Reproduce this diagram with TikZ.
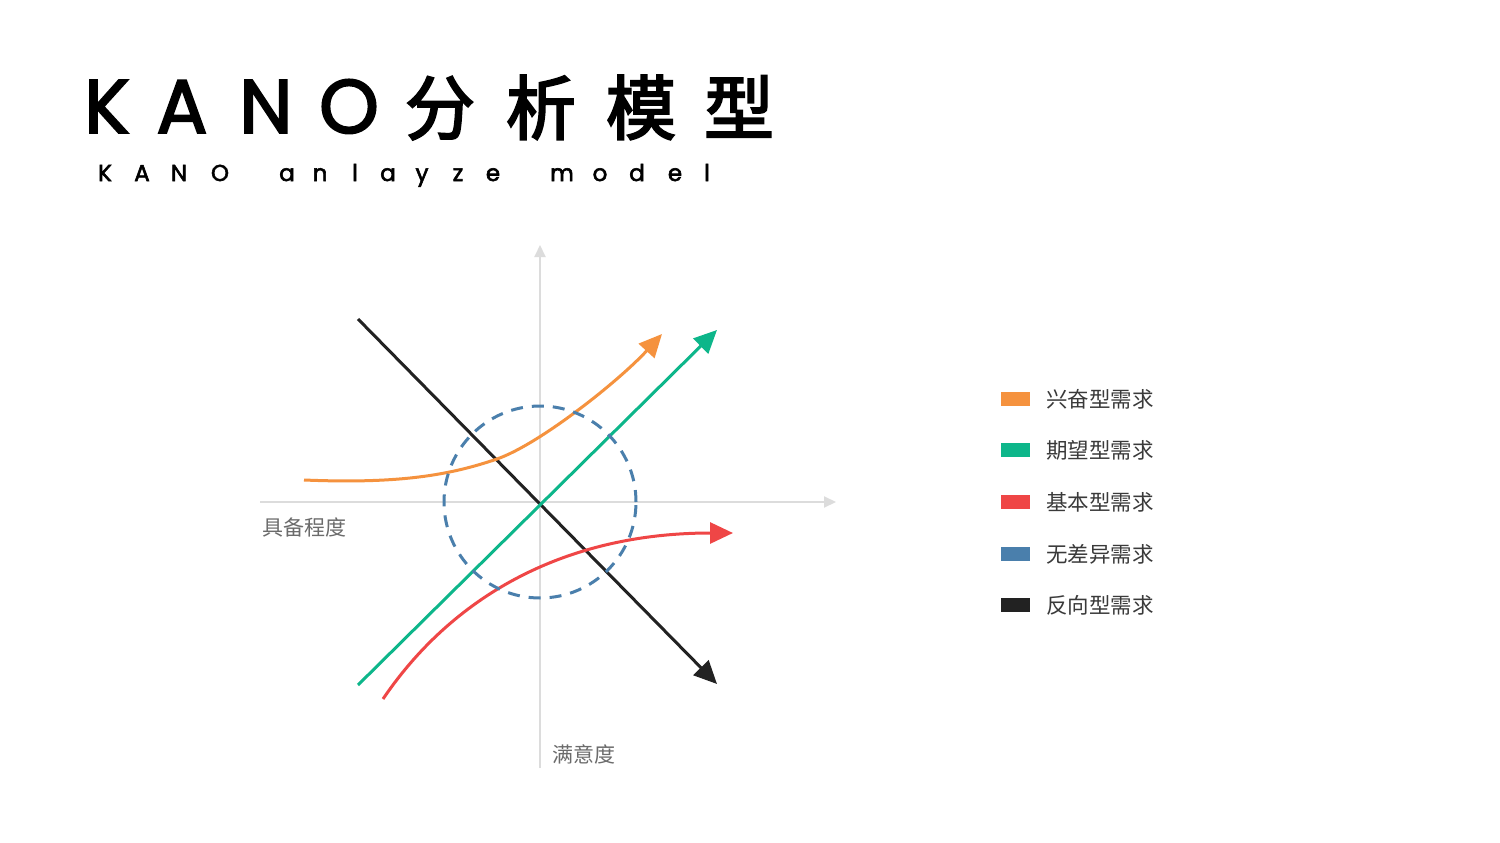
\documentclass[tikz,border=0pt]{standalone}
\usepackage{fontspec}
\setmainfont{Noto Sans CJK SC}
\newfontfamily\latinfont{Poppins}
\newfontfamily\titlelatinfont{Poppins}[FakeBold=2.5]
\newfontfamily\sublatinfont{Poppins}[FakeBold=2.5]
\newfontfamily\cjkfont{Noto Sans CJK SC}
\newfontfamily\titlecjkfont{Noto Sans CJK SC}[FakeBold=3]
\usetikzlibrary{arrows.meta,positioning}

\definecolor{excite}{HTML}{F5923E}
\definecolor{expect}{HTML}{0DB68A}
\definecolor{basic}{HTML}{EF4646}
\definecolor{indiff}{HTML}{4A7FAC}
\definecolor{reverse}{HTML}{222222}
\definecolor{axisgray}{HTML}{DCDCDC}
\definecolor{labelgray}{HTML}{6B6B6B}
\definecolor{legendgray}{HTML}{3A3A3A}

\begin{document}
\begin{tikzpicture}[x=1pt,y=-1pt,
    titlelatin/.style={anchor=base,inner sep=0pt,font=\titlelatinfont\fontsize{76}{80}\selectfont},
    titlecjk/.style={anchor=base,inner sep=0pt,font=\titlecjkfont\fontsize{70}{80}\selectfont},
    subtitle/.style={anchor=base,inner sep=0pt,font=\sublatinfont\fontsize{23}{26}\selectfont},
    axisline/.style={axisgray,line width=2pt,-{Triangle[length=12pt,width=11pt]}},
    axislabel/.style={labelgray,inner sep=0pt,font=\cjkfont\fontsize{21}{24}\selectfont},
    curve/.style={line width=3pt,-{Triangle[length=23pt,width=21pt]}},
    legendbox/.style={minimum width=29pt,minimum height=14pt,inner sep=0pt},
    legendtext/.style={legendgray,inner sep=0pt,font=\cjkfont\fontsize{21.5}{24}\selectfont}]
  \fill[white] (0,0) rectangle (1500,843);
  \useasboundingbox (0,0) rectangle (1500,843);

  % title
  \foreach \ch/\x in {K/107,A/182,N/266,O/349}
    \node[titlelatin] (title\ch) at (\x,133) {\ch};
  \foreach \ch/\x [count=\i] in {分/440,析/541,模/641,型/739}
    \node[titlecjk] (titlecjk\i) at (\x,134) {\ch};
  \foreach \ch/\x [count=\i] in {K/105,A/142,N/179,O/220,a/287,n/320,l/355,a/388,y/422,z/458,e/493,m/562,o/600,d/637,e/675,l/707}
    \node[subtitle] (sub\i) at (\x,181) {\ch};

  % axes
  \coordinate (origin) at (540,502);
  \coordinate (xstart) at (260,502);
  \coordinate (xend) at (836,502);
  \coordinate (ystart) at (540,768);
  \coordinate (yend) at (540,245);
  \draw[axisline] (xstart) -- (xend);
  \draw[axisline] (ystart) -- (yend);
  \node[axislabel] (xlabel) at (304,527) {具备程度};
  \node[axislabel] (ylabel) at (584,754) {满意度};

  % curves
  \coordinate (revstart) at (358,319);
  \coordinate (revend) at (717,684);
  \coordinate (expstart) at (358,685);
  \coordinate (expend) at (717,330);
  \coordinate (excstart) at (304,480);
  \coordinate (excmid) at (497,459);
  \coordinate (excend) at (662,334);
  \coordinate (basstart) at (383,699);
  \coordinate (basend) at (733,533);
  \draw[curve,reverse] (revstart) -- (revend);
  \draw[curve,expect] (expstart) -- (expend);
  \draw[curve,excite] (excstart) .. controls (400,484) and (450,475) .. (excmid)
    .. controls (540,444) and (620,380) .. (excend);
  \draw[curve,basic] (basstart) .. controls (450,600) and (560,533) .. (basend);

  % dashed circle on top
  \draw[indiff,line width=3pt,dash pattern=on 12pt off 9pt] (origin) circle[radius=96pt];

  % legend
  \foreach \name/\col/\y [count=\i] in {兴奋型需求/excite/399,期望型需求/expect/450,基本型需求/basic/502,无差异需求/indiff/554,反向型需求/reverse/605}{
    \node[legendbox,fill=\col] (box\i) at (1015.5,\y) {};
    \node[legendtext,right=16pt of box\i] (legend\i) {\name};
  }
\end{tikzpicture}
\end{document}
